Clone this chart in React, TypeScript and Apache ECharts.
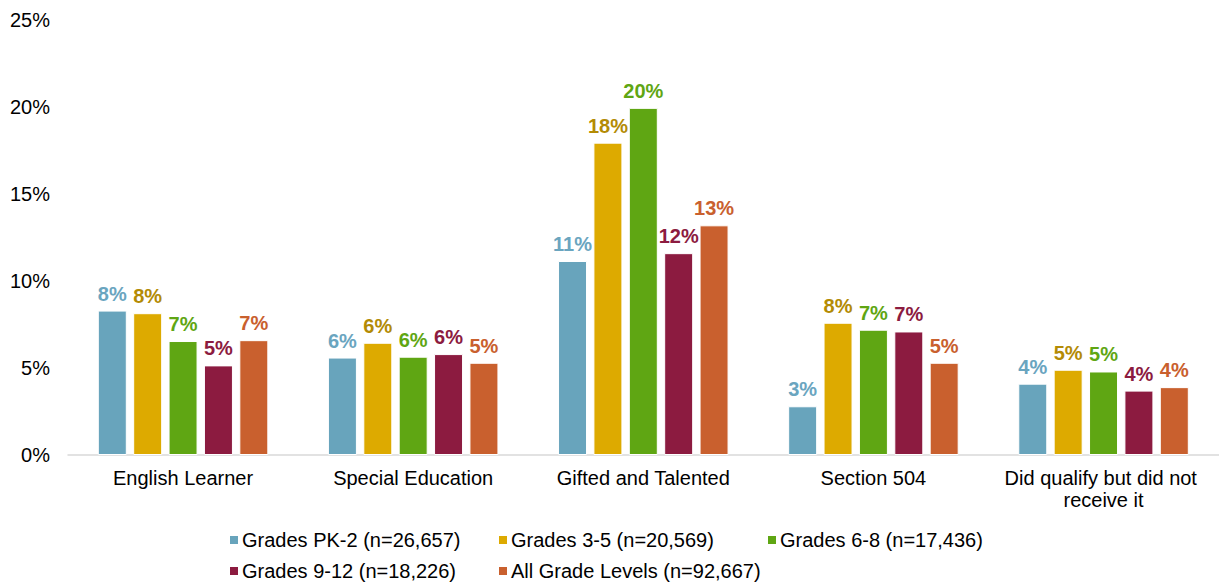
import React, { useEffect, useRef } from "react";
import * as echarts from "echarts";

const categories = [
  "English Learner",
  "Special Education",
  "Gifted and Talented",
  "Section 504",
  "Did qualify but did not receive it",
];
const seriesNames = [
  "Grades PK-2 (n=26,657)",
  "Grades 3-5 (n=20,569)",
  "Grades 6-8 (n=17,436)",
  "Grades 9-12 (n=18,226)",
  "All Grade Levels (n=92,667)",
];
const pk2 = [8.3, 5.6, 11.15, 2.8, 4.1];
const g35 = [8.15, 6.45, 17.95, 7.6, 4.9];
const g68 = [6.55, 5.65, 19.95, 7.2, 4.8];
const g912 = [5.15, 5.8, 11.6, 7.1, 3.7];
const all = [6.6, 5.3, 13.2, 5.3, 3.9];
const seriesValues = [pk2, g35, g68, g912, all];
const barColors = ["#68A4BC", "#DDAA00", "#5FA613", "#8C1B40", "#C9602E"];
const labelColors = ["#6AA5BF", "#B38B05", "#5FA613", "#8C1B40", "#C9602E"];
const yTicks = [0, 5, 10, 15, 20, 25];
const legendSlots = [
  [228, 530],
  [497, 530],
  [766, 530],
  [228, 561],
  [497, 561],
];

export default function App() {
  const ref = useRef<HTMLDivElement>(null);
  useEffect(() => {
    if (!ref.current) return;
    const chart = echarts.init(ref.current, null, { renderer: "svg" });
    const font = "Liberation Sans, Arial, sans-serif";
    chart.setOption({
      animation: false,
      textStyle: { fontFamily: font },
      grid: { left: 68, right: 0, top: 20, bottom: 129, containLabel: false },
      legend: seriesNames.map((name, i) => ({
        data: [name],
        left: legendSlots[i][0],
        top: legendSlots[i][1],
        padding: 0,
        itemWidth: 10,
        itemHeight: 10,
        itemGap: 0,
        icon: "rect",
        textStyle: {
          fontFamily: font,
          fontSize: 20,
          color: "#000",
          padding: [0, 0, 0, -2],
        },
        selectedMode: false,
      })),
      xAxis: {
        type: "category",
        data: categories,
        axisLine: { show: true, lineStyle: { color: "#D9D9D9", width: 1.5 } },
        axisTick: { show: false },
        axisLabel: {
          color: "#000",
          fontSize: 20,
          fontFamily: font,
          margin: 12,
          width: 225,
          overflow: "break",
          lineHeight: 22,
          interval: 0,
        },
      },
      yAxis: {
        type: "value",
        min: 0,
        max: 25,
        interval: 5,
        axisLine: { show: false },
        axisTick: { show: false },
        splitLine: { show: false },
        axisLabel: {
          color: "#000",
          fontSize: 20,
          fontFamily: font,
          margin: 18,
          formatter: (v: number) => (yTicks.includes(v) ? `${v}%` : ""),
        },
      },
      series: seriesNames.map((name, i) => ({
        name,
        type: "bar",
        data: seriesValues[i],
        barWidth: 29,
        barGap: "22%",
        itemStyle: {
          color: barColors[i],
          borderColor: "#FFFFFF",
          borderWidth: 1,
        },
        label: {
          show: true,
          position: "top",
          distance: 7,
          color: labelColors[i],
          fontWeight: "bold",
          fontSize: 20,
          fontFamily: font,
          formatter: (p: any) => `${Math.round(p.value)}%`,
        },
      })),
    });
    return () => chart.dispose();
  }, []);
  return (
    <div
      ref={ref}
      style={{ position: "absolute", left: 0, top: 0, width: 1219, height: 584 }}
    />
  );
}
